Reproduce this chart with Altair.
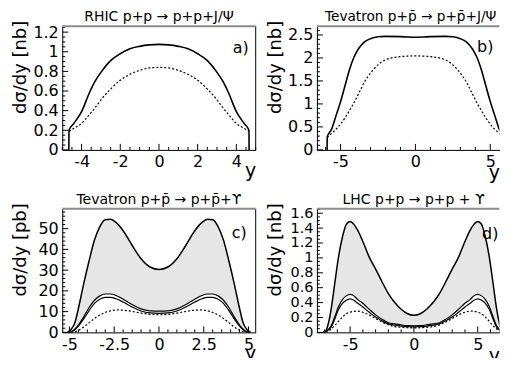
import altair as alt
import pandas as pd

FONT = "DejaVu Sans"

# ---------------- panel a: RHIC p+p -> p+p+J/Psi ----------------
a_y = [-4.66, -4.65, -4.4, -4.0, -3.6, -3.3, -3.0, -2.5, -2.0, -1.5, -1.0, -0.5, 0.0,
       0.5, 1.0, 1.5, 2.0, 2.5, 3.0, 3.3, 3.6, 4.0, 4.4, 4.65, 4.66]
a_solid = [0.0, 0.20, 0.27, 0.39, 0.58, 0.70, 0.79, 0.91, 0.98, 1.03, 1.055, 1.07, 1.075,
           1.07, 1.055, 1.03, 0.98, 0.91, 0.79, 0.70, 0.58, 0.39, 0.27, 0.20, 0.0]
a_dotted = [None, 0.19, 0.22, 0.27, 0.36, 0.43, 0.51, 0.62, 0.71, 0.77, 0.81, 0.835, 0.84,
            0.835, 0.81, 0.77, 0.71, 0.62, 0.51, 0.43, 0.36, 0.27, 0.22, 0.19, None]

# ---------------- panel b: Tevatron J/Psi ----------------
b_y = [-5.9, -5.89, -5.6, -5.3, -5.0, -4.7, -4.4, -4.1, -3.8, -3.4, -3.0, -2.5, -2.0, -1.0, -0.5, 0.0,
       0.5, 1.0, 2.0, 2.5, 3.0, 3.4, 3.8, 4.1, 4.4, 4.7, 5.0, 5.3, 5.6, 5.89, 5.9]
b_solid = [0.0, 0.28, 0.45, 0.75, 1.05, 1.40, 1.75, 2.02, 2.20, 2.35, 2.42, 2.46, 2.47, 2.465, 2.455, 2.45,
           2.455, 2.465, 2.47, 2.46, 2.42, 2.35, 2.20, 2.02, 1.75, 1.40, 1.05, 0.75, 0.45, 0.28, 0.0]
b_dotted = [None, 0.27, 0.36, 0.45, 0.56, 0.70, 0.86, 1.03, 1.22, 1.48, 1.67, 1.85, 1.96, 2.03, 2.04, 2.045,
            2.04, 2.03, 1.96, 1.85, 1.67, 1.48, 1.22, 1.03, 0.86, 0.70, 0.56, 0.45, 0.36, 0.27, None]

# ---------------- panel c: Tevatron Upsilon ----------------
c_y = [-5.1, -4.9, -4.7, -4.5, -4.2, -3.9, -3.6, -3.3, -3.0, -2.7, -2.4, -2.0, -1.5, -1.0, -0.5, 0.0,
       0.5, 1.0, 1.5, 2.0, 2.4, 2.7, 3.0, 3.3, 3.6, 3.9, 4.2, 4.5, 4.7, 4.9, 5.1]
c_top = [0, 1.5, 4.5, 11.5, 23.5, 34.5, 44.5, 51, 54.3, 54.5, 53, 49, 42, 35.5, 31.5, 30.3,
         31.5, 35.5, 42, 49, 53, 54.5, 54.3, 51, 44.5, 34.5, 23.5, 11.5, 4.5, 1.5, 0]
c_thin1 = [0, 0.3, 1.5, 3.5, 7.5, 12, 15.5, 17.6, 18.5, 18.5, 17.8, 16.0, 13.4, 11.3, 10.4, 10.2,
           10.4, 11.3, 13.4, 16.0, 17.8, 18.5, 18.5, 17.6, 15.5, 12, 7.5, 3.5, 1.5, 0.3, 0]
c_thin2 = [0, 0.2, 1.2, 3.0, 6.5, 10.5, 14.0, 16.0, 16.9, 16.9, 16.2, 14.6, 12.2, 10.3, 9.4, 9.2,
           9.4, 10.3, 12.2, 14.6, 16.2, 16.9, 16.9, 16.0, 14.0, 10.5, 6.5, 3.0, 1.2, 0.2, 0]
c_dotted = [None, 0, 0.3, 1.0, 2.6, 4.7, 6.7, 8.4, 9.6, 10.4, 10.8, 10.7, 10.1, 9.3, 8.7, 8.5,
            8.7, 9.3, 10.1, 10.7, 10.8, 10.4, 9.6, 8.4, 6.7, 4.7, 2.6, 1.0, 0.3, 0, None]

# ---------------- panel d: LHC Upsilon ----------------
d_y = [-7.1, -6.9, -6.65, -6.45, -6.2, -5.9, -5.6, -5.3, -5.0, -4.7, -4.4, -4.0, -3.5, -3.0, -2.5,
       -2.0, -1.5, -1.0, -0.5, 0.0, 0.5, 1.0, 1.5, 2.0, 2.5, 3.0, 3.5, 4.0, 4.4, 4.7, 5.0, 5.3,
       5.6, 5.9, 6.2, 6.45, 6.65, 6.9, 7.1]
d_top = [0, 0.02, 0.16, 0.35, 0.66, 1.02, 1.28, 1.45, 1.49, 1.45, 1.37, 1.22, 1.01, 0.85, 0.68,
         0.52, 0.40, 0.31, 0.25, 0.23, 0.25, 0.31, 0.40, 0.52, 0.68, 0.85, 1.01, 1.22, 1.37, 1.45,
         1.49, 1.45, 1.28, 1.02, 0.66, 0.35, 0.16, 0.02, 0]
d_thin1 = [0, 0.01, 0.05, 0.10, 0.21, 0.35, 0.44, 0.49, 0.51, 0.49, 0.44, 0.39, 0.31, 0.235, 0.175,
           0.13, 0.115, 0.10, 0.09, 0.088, 0.09, 0.10, 0.115, 0.13, 0.175, 0.235, 0.31, 0.39, 0.44,
           0.49, 0.51, 0.49, 0.44, 0.35, 0.21, 0.10, 0.05, 0.01, 0]
d_thin2 = [0, 0.01, 0.04, 0.08, 0.18, 0.31, 0.39, 0.43, 0.45, 0.43, 0.39, 0.34, 0.27, 0.205, 0.155,
           0.115, 0.098, 0.085, 0.076, 0.074, 0.076, 0.085, 0.098, 0.115, 0.155, 0.205, 0.27, 0.34,
           0.39, 0.43, 0.45, 0.43, 0.39, 0.31, 0.18, 0.08, 0.04, 0.01, 0]
d_dotted = [None, 0, 0.02, 0.05, 0.09, 0.15, 0.205, 0.25, 0.27, 0.283, 0.285, 0.27, 0.235, 0.185,
            0.14, 0.10, 0.078, 0.068, 0.062, 0.06, 0.062, 0.068, 0.078, 0.10, 0.14, 0.185, 0.235,
            0.27, 0.285, 0.283, 0.27, 0.25, 0.205, 0.15, 0.09, 0.05, 0.02, 0, None]

# ---------------- tick values ----------------
a_xmaj = [-4, -2, 0, 2, 4]
a_ymaj = [0, 0.2, 0.4, 0.6, 0.8, 1, 1.2]
b_xmaj = [-5, 0, 5]
b_ymaj = [0, 0.5, 1, 1.5, 2, 2.5]
c_xmaj = [-5, -2.5, 0, 2.5, 5]
c_ymaj = [0, 10, 20, 30, 40, 50]
d_xmaj = [-5, 0, 5]
d_ymaj = [0, 0.2, 0.4, 0.6, 0.8, 1, 1.2, 1.4, 1.6]


def minors(lo, hi, step, majors):
    out = []
    n = int(round((hi - lo) / step))
    for i in range(n + 1):
        v = round(lo + i * step, 4)
        if all(abs(v - m) > 1e-6 for m in majors):
            out.append(v)
    return out


H = 124


def panel(title, tx, tsize, x, series, xdom, ydom, W, xmaj, xmin, ymaj, ymin, ytitle,
          letter, lx, ly, right_frame, band=None, ylab=16, xty=27):
    xs = alt.Scale(domain=xdom, nice=False, zero=False)
    ys = alt.Scale(domain=ydom, nice=False, zero=False)
    xax = alt.Axis(values=xmaj, labelExpr="'' + datum.value", ticks=False, tickSize=0,
                   domainColor="black", domainWidth=1, grid=False, labelFont=FONT,
                   labelFontSize=16, labelColor="black", labelPadding=4, labelFlush=False,
                   labelOverlap=False, titleFont=FONT, titleFontSize=19,
                   titleFontWeight="normal", titleColor="black", titleAnchor="end",
                   titleAlign="right", titleBaseline="alphabetic", titleY=xty)
    yax = alt.Axis(values=ymaj, labelExpr="'' + datum.value", ticks=False, tickSize=0,
                   domainColor="black", domainWidth=1, grid=False, labelFont=FONT,
                   labelFontSize=ylab, labelColor="black", labelPadding=4, labelFlush=False,
                   labelOverlap=False, titleFont=FONT, titleFontSize=18,
                   titleFontWeight="normal", titleColor="black", titleAnchor="end",
                   titleAlign="right", titleAngle=270, titleBaseline="bottom",
                   titleX=-33, titleY=-6)

    def X(f):
        return alt.X(f"{f}:Q", scale=xs, axis=xax, title="y")

    def Y(f):
        return alt.Y(f"{f}:Q", scale=ys, axis=yax, title=ytitle)

    layers = []
    if band is not None:
        bdf = pd.DataFrame({"y": x, "hi": band[0], "lo": band[1]})
        layers.append(alt.Chart(bdf).mark_area(color="#e6e6e6", interpolate="monotone", clip=True)
                      .encode(x=X("y"), y=Y("hi"), y2="lo:Q"))
    for vals, style in series:
        df = pd.DataFrame({"y": x, "v": vals}).dropna()
        layers.append(alt.Chart(df).mark_line(interpolate="monotone", clip=True, color="black", **style)
                      .encode(x=X("y"), y=Y("v")))
    for vals, ln in ((ymaj, 6), (ymin, 3)):
        layers.append(alt.Chart(pd.DataFrame({"t": vals})).mark_rule(color="black", strokeWidth=1)
                      .encode(y=Y("t"), x=alt.value(0), x2=alt.value(ln)))
    for vals, ln in ((xmaj, 6), (xmin, 3)):
        layers.append(alt.Chart(pd.DataFrame({"t": vals})).mark_rule(color="black", strokeWidth=1)
                      .encode(x=X("t"), y=alt.value(H), y2=alt.value(H - ln)))
    if right_frame:
        layers.append(alt.Chart(pd.DataFrame({"k": [0]})).mark_rule(color="black", strokeWidth=1)
                      .encode(x=alt.value(W), y=alt.value(0), y2=alt.value(H)))
    layers.append(alt.Chart(pd.DataFrame({"k": [0]})).mark_rule(color="#8c8c8c", strokeWidth=2)
                  .encode(x=alt.value(0), x2=alt.value(W), y=alt.value(0)))
    layers.append(alt.Chart(pd.DataFrame({"t": [letter]}))
                  .mark_text(font=FONT, fontSize=16, color="black", align="right", baseline="middle")
                  .encode(text="t:N", x=alt.value(lx), y=alt.value(ly)))
    # panel heading, just above the frame
    layers.append(alt.Chart(pd.DataFrame({"t": [title]}))
                  .mark_text(font=FONT, fontSize=tsize, color="black", align="center",
                             baseline="alphabetic")
                  .encode(text="t:N", x=alt.value(tx), y=alt.value(-5)))
    return alt.layer(*layers).properties(width=W, height=H)


solid = {"strokeWidth": 1.6}
dotted = {"strokeWidth": 1.2, "strokeDash": [2, 2]}
thick = {"strokeWidth": 1.5}
thin = {"strokeWidth": 1.2}

pa = panel("RHIC p+p \u2192 p+p+J/\u03a8", 97, 14, a_y, [(a_solid, solid), (a_dotted, dotted)],
           [-5, 5], [0, 1.26], 194, a_xmaj, minors(-5, 5, 0.5, a_xmaj),
           a_ymaj, minors(0, 1.25, 0.05, a_ymaj), "d\u03c3/dy [nb]", "a)", 187, 22, True)
pb = panel("Tevatron p+p\u0304 \u2192 p+p\u0304+J/\u03a8", 94, 13.7, b_y,
           [(b_solid, solid), (b_dotted, dotted)],
           [-6.58, 5.61], [0, 2.69], 183, b_xmaj, minors(-6, 5, 1, b_xmaj),
           b_ymaj, minors(0, 2.6, 0.1, b_ymaj), "d\u03c3/dy [nb]", "b)", 177, 21, False, xty=29)
pc = panel("Tevatron p+p\u0304 \u2192 p+p\u0304+\u03d2", 97, 14, c_y,
           [(c_top, thick), (c_thin1, thin), (c_thin2, thin), (c_dotted, dotted)],
           [-5.4, 5.4], [0, 59.6], 194, c_xmaj, minors(-5.0, 5.0, 0.5, c_xmaj),
           c_ymaj, minors(0, 58, 2, c_ymaj), "d\u03c3/dy [pb]", "c)", 185, 24, True,
           band=(c_top, c_thin1))
pd_ = panel("LHC p+p \u2192 p+p + \u03d2", 97, 14, d_y,
            [(d_top, thick), (d_thin1, thin), (d_thin2, thin), (d_dotted, dotted)],
            [-7.6, 6.7], [0, 1.66], 183, d_xmaj, minors(-7, 6, 1, d_xmaj),
            d_ymaj, minors(0, 1.65, 0.05, d_ymaj), "d\u03c3/dy [nb]", "d)", 182, 25, False,
            band=(d_top, d_thin1), ylab=14.5, xty=29)

chart = alt.concat(pa, pb, pc, pd_, columns=2, spacing={"row": 10, "column": 9.4}).properties(
    padding={"left": 3.4, "top": 1.8, "right": 0, "bottom": -7.8}
).configure_view(stroke=None)

chart.save("out.html", embed_options={"renderer": "svg", "actions": False})
